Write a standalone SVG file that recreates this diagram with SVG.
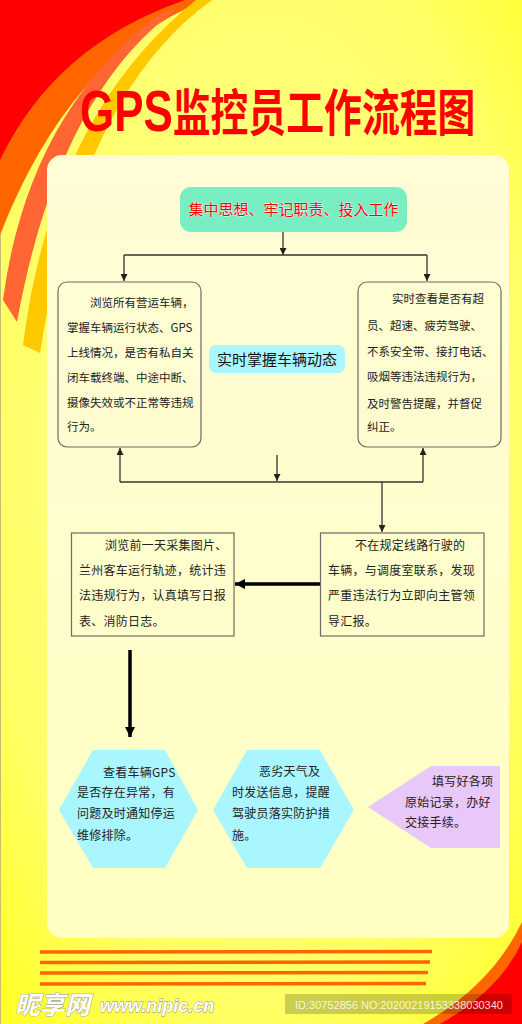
<svg xmlns="http://www.w3.org/2000/svg" width="522" height="1024" viewBox="0 0 522 1024">
<defs>
<radialGradient id="bg" cx="0.5" cy="0.45" r="0.75">
<stop offset="0" stop-color="#ffff9a"/>
<stop offset="0.7" stop-color="#ffff66"/>
<stop offset="1" stop-color="#ffff22"/>
</radialGradient>
<linearGradient id="panel" x1="0" y1="0" x2="0" y2="1">
<stop offset="0" stop-color="#fffcd6"/>
<stop offset="1" stop-color="#ffffc2"/>
</linearGradient>
<marker id="ah" viewBox="0 0 8 8" refX="8" refY="4" markerWidth="7" markerHeight="7" markerUnits="userSpaceOnUse" orient="auto">
<path d="M0,0 L8,4 L0,8 z" fill="#222"/>
</marker>
<marker id="ahb" viewBox="0 0 10 10" refX="10" refY="5" markerWidth="10" markerHeight="10" markerUnits="userSpaceOnUse" orient="auto">
<path d="M0,0 L10,5 L0,10 z" fill="#000"/>
</marker>
</defs>
<style>
.t{font-family:"Noto Sans CJK SC","Noto Sans",sans-serif;fill:#222;}
.s115{font-size:11.5px;}
.s12{font-size:12px;letter-spacing:0.25px;}
.box{fill:none;stroke:#6b6b6b;stroke-width:1.2;}
.ln{fill:none;stroke:#333;stroke-width:1.3;}
.thick{fill:none;stroke:#000;stroke-width:3.5;}
.hex{fill:#aaf6ff;}
.stripe{stroke:#ff6600;stroke-width:3.5;stroke-linecap:butt;}
</style>

<!-- background -->
<rect x="0" y="0" width="522" height="1024" fill="url(#bg)"/>
<line x1="0.5" y1="0" x2="0.5" y2="1024" stroke="#c8c070" stroke-width="1"/>

<!-- top-left decoration -->
<path d="M0,0 L205,0 Q70,55 0,235 Z" fill="#ff6600"/>
<path d="M0,0 L185,0 Q55,45 0,160 Z" fill="#ff0000"/>
<path d="M178,8 Q58,95 17,322 L3,300 Q28,112 160,14 Z" fill="#ff6633"/>
<path d="M212,0 Q80,95 40,353 L23,345 Q52,115 196,0 Z" fill="#ffc800"/>

<!-- bottom-right decoration -->
<path d="M423,1024 Q492,985 522,922 L522,1024 Z" fill="#ff6600"/>
<path d="M440,1024 Q500,990 522,942 L522,1024 Z" fill="#ff0000"/>

<!-- panel -->
<rect x="47" y="155" width="462" height="783" rx="15" fill="url(#panel)"/>

<!-- title -->
<g id="title" transform="translate(80,131) scale(0.757,1)">
<text x="0" y="0" font-family="Noto Sans CJK SC, sans-serif" font-weight="bold" font-size="50" fill="#ff0000"><tspan font-family="Liberation Sans, Arial, sans-serif" font-size="58">GPS</tspan>监控员工作流程图</text>
</g>

<!-- connectors -->
<g id="connectors">
<path class="ln" d="M283,232 V255" marker-end="url(#ah)"/>
<path class="ln" d="M124,255 H427"/>
<path class="ln" d="M124,255 V281" marker-end="url(#ah)"/>
<path class="ln" d="M427,255 V281" marker-end="url(#ah)"/>
<path class="ln" d="M120,482 H423"/>
<path class="ln" d="M120,482 V448" marker-end="url(#ah)"/>
<path class="ln" d="M423,482 V448" marker-end="url(#ah)"/>
<path class="ln" d="M277,455 V481" marker-end="url(#ah)"/>
<path class="ln" d="M382,482 V532" marker-end="url(#ah)"/>
<path class="thick" d="M321,584 H235" marker-end="url(#ahb)"/>
<path class="thick" d="M130,650 V737" marker-end="url(#ahb)"/>
</g>

<!-- top node -->
<g id="n-start">
<rect x="180" y="187" width="227" height="45" rx="11" fill="#78eec2"/>
<text x="293.5" y="215" text-anchor="middle" font-family="Noto Sans CJK SC, sans-serif" font-size="15" fill="#ff0000" stroke="#ffffff" stroke-width="0.7" paint-order="stroke">集中思想、牢记职责、投入工作</text>
</g>

<!-- left top box -->
<g id="n-browse">
<rect class="box" x="58" y="282" width="143" height="165" rx="9"/>
<text class="t s115"><tspan x="90" y="307">浏览所有营运车辆，</tspan><tspan x="67" y="331.5">掌握车辆运行状态、GPS</tspan><tspan x="67" y="357">上线情况，是否有私自关</tspan><tspan x="67" y="381.5">闭车载终端、中途中断、</tspan><tspan x="67" y="407">摄像失效或不正常等违规</tspan><tspan x="67" y="431">行为。</tspan></text>
</g>

<!-- middle label -->
<g id="n-realtime">
<rect x="209" y="345" width="136" height="28" rx="7" fill="#aaf6ff"/>
<text x="277" y="365" text-anchor="middle" font-family="Noto Sans CJK SC, sans-serif" font-size="15" fill="#111">实时掌握车辆动态</text>
</g>

<!-- right top box -->
<g id="n-check">
<rect class="box" x="358" y="282" width="143" height="165" rx="9"/>
<text class="t s115"><tspan x="392" y="303">实时查看是否有超</tspan><tspan x="367" y="329.5">员、超速、疲劳驾驶、</tspan><tspan x="367" y="356">不系安全带、接打电话、</tspan><tspan x="367" y="381">吸烟等违法违规行为，</tspan><tspan x="367" y="407.5">及时警告提醒，并督促</tspan><tspan x="367" y="431">纠正。</tspan></text>
</g>

<!-- lower left box -->
<g id="n-daily">
<rect class="box" x="71.5" y="533" width="162.5" height="103"/>
<text class="t s12"><tspan x="105" y="549.5">浏览前一天采集图片、</tspan><tspan x="79" y="575">兰州客车运行轨迹，统计违</tspan><tspan x="79" y="600">法违规行为，认真填写日报</tspan><tspan x="79" y="626">表、消防日志。</tspan></text>
</g>

<!-- lower right box -->
<g id="n-route">
<rect class="box" x="320.5" y="533" width="163.5" height="103"/>
<text class="t s12"><tspan x="355" y="549.5">不在规定线路行驶的</tspan><tspan x="328" y="575">车辆，与调度室联系，发现</tspan><tspan x="328" y="600">严重违法行为立即向主管领</tspan><tspan x="328" y="626">导汇报。</tspan></text>
</g>

<!-- hexagon 1 -->
<g id="n-gps">
<polygon class="hex" points="59,810 93,750 165,750 198,810 165,868 93,868"/>
<text class="t s12"><tspan x="103" y="777">查看车辆GPS</tspan><tspan x="77" y="796.5">是否存在异常，有</tspan><tspan x="77" y="818">问题及时通知停运</tspan><tspan x="77" y="839.5">维修排除。</tspan></text>
</g>

<!-- hexagon 2 -->
<g id="n-weather">
<polygon class="hex" points="213,810 247,750 320,750 354,810 320,868 247,868"/>
<text class="t s12"><tspan x="259" y="776">恶劣天气及</tspan><tspan x="232" y="796.5">时发送信息，提醒</tspan><tspan x="232" y="818">驾驶员落实防护措</tspan><tspan x="232" y="839.5">施。</tspan></text>
</g>

<!-- pentagon -->
<g id="n-record">
<polygon points="368,807 431,766 500,766 500,848 431,848" fill="#e8c8f8"/>
<text class="t s12"><tspan x="432" y="786">填写好各项</tspan><tspan x="405" y="807">原始记录，办好</tspan><tspan x="405" y="827">交接手续。</tspan></text>
</g>

<!-- bottom stripes -->
<line class="stripe" x1="40" y1="952" x2="432" y2="951.5"/>
<line class="stripe" x1="40" y1="962.5" x2="430" y2="962"/>
<line class="stripe" x1="40" y1="973" x2="428" y2="972.5"/>
<line class="stripe" x1="40" y1="984" x2="426" y2="983.5"/>

<!-- watermark -->
<text x="15" y="1014" font-family="Noto Sans CJK SC, sans-serif" font-weight="bold" font-style="italic" font-size="25" fill="#ffffff" stroke="#888" stroke-width="0.8" paint-order="stroke">昵享网</text>
<text x="100" y="1012" font-family="Liberation Sans, Arial, sans-serif" font-weight="bold" font-style="italic" font-size="18" fill="#ffffff" stroke="#888" stroke-width="0.8" paint-order="stroke">www.nipic.cn</text>
<rect x="285" y="994" width="227" height="20" fill="#000" fill-opacity="0.2"/>
<text x="295" y="1008.5" font-family="Liberation Sans, Arial, sans-serif" font-size="11" fill="#ffffff" fill-opacity="0.85">ID:30752856 NO:20200219153338030340</text>
</svg>
